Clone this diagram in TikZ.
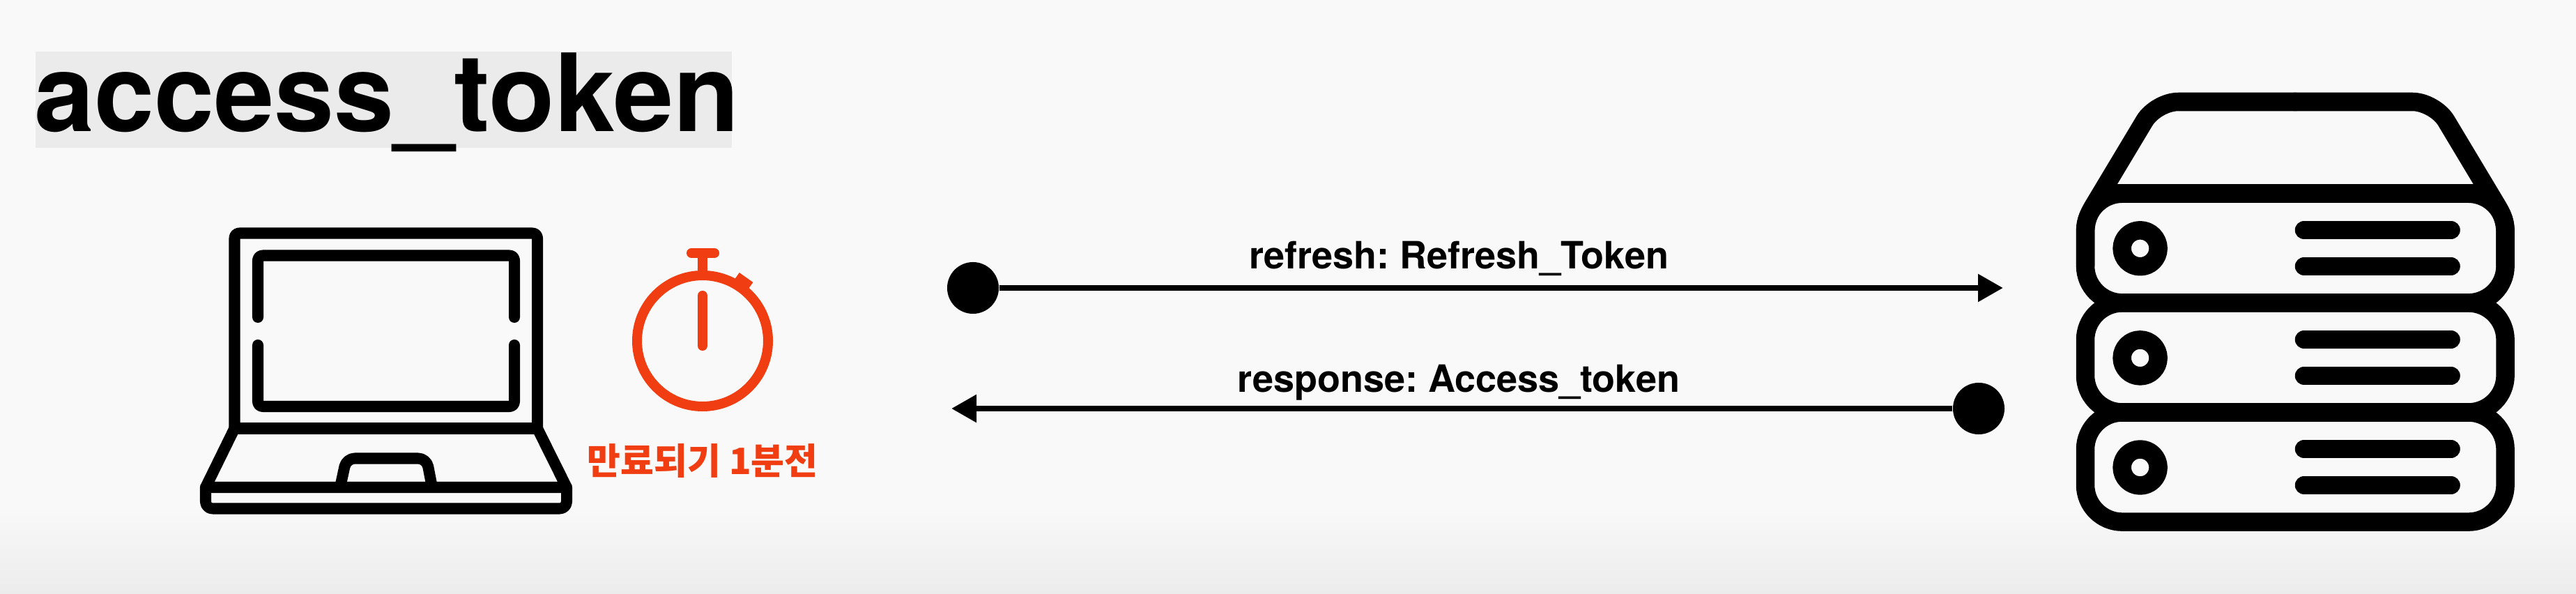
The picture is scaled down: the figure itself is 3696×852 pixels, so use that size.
\documentclass[tikz,border=0pt]{standalone}
\usepackage{fontspec}
\setmainfont{TeX Gyre Heros}
\newfontfamily\krfont{Noto Sans CJK KR}
\usetikzlibrary{arrows.meta}
\definecolor{pagebg}{HTML}{F9F9F9}
\definecolor{pagelow}{HTML}{ECECEC}
\definecolor{markbg}{HTML}{EBEBEB}
\definecolor{alarm}{HTML}{F03E12}
\tikzset{
  laptopline/.style={draw=black,line width=0.16cm,line cap=round,line join=round},
  serverline/.style={draw=black,line width=0.265cm,line cap=round,line join=round},
  watchline/.style={draw=alarm,line width=0.14cm,line cap=round},
  dot/.style={circle,fill=black,inner sep=0pt,minimum size=0.74cm},
  flow/.style={draw=black,line width=0.085cm,-{Triangle[length=0.36cm,width=0.38cm]}},
  flowlabel/.style={inner sep=0pt,anchor=base,font=\bfseries\frenchspacing\fontsize{15.35}{18}\selectfont}
}
\begin{document}
\begin{tikzpicture}[x=0.01cm,y=-0.01cm]
\useasboundingbox (0,0) rectangle (3696,852);
\fill[pagebg] (0,0) rectangle (3696,852);
\shade[top color=pagebg,bottom color=pagelow] (0,725) rectangle (3696,852);
% title
\fill[markbg] (51,74) rectangle (1050,212);
\node[inner sep=0pt,anchor=base] (title) at (555,189) {\bfseries\fontsize{44}{50}\selectfont access\_token};
% laptop
\draw[laptopline,rounded corners=0.07cm] (336.5,614.5) -- (336.5,334.5) -- (771,334.5) -- (771,614.5);
\draw[laptopline] (336.5,614.5) -- (771,614.5);
\draw[laptopline,rounded corners=0.07cm] (370,455) -- (370,366.5) -- (738,366.5) -- (738,455);
\draw[laptopline,rounded corners=0.07cm] (370,495) -- (370,583) -- (738,583) -- (738,495);
\draw[laptopline] (336.5,614.5) -- (295,699) -- (813,699) -- (771,614.5);
\draw[laptopline,rounded corners=0.1cm] (295,699) -- (295,729.5) -- (813,729.5) -- (813,699);
\draw[laptopline,rounded corners=0.12cm] (488,699) -- (497,657.5) -- (612,657.5) -- (620,699);
% stopwatch
\draw[watchline] (1008,489) circle (94);
\draw[watchline] (992,363) -- (1025,363);
\draw[watchline,line cap=butt] (1008,363) -- (1008,395);
\draw[watchline] (1008,424) -- (1008,496);
\draw[watchline,line width=0.24cm,line cap=butt] (1060,413) -- (1070.6,398);
\node[inner sep=0pt,text=alarm] (expire) at (1008,661) {\krfont\bfseries\fontsize{14.8}{18}\selectfont 만료되기 1분전};
% server
\draw[serverline] (2992,381) -- (2992,335) .. controls (2992,318) and (2996,308) .. (3004.5,294)
  [rounded corners=0.32cm] -- (3093.3,146) -- (3293,146);
\draw[serverline] (3594.6,381) -- (3594.6,335) .. controls (3594.6,318) and (3590.6,308) .. (3582.1,294)
  [rounded corners=0.32cm] -- (3493.3,146) -- (3293,146);
\draw[serverline,line cap=butt] (3012,277.7) -- (3575,277.7);
\draw[serverline,rounded corners=0.53cm] (2992,277.7) rectangle (3594.6,434.4);
\draw[serverline,rounded corners=0.53cm] (2992,434.4) rectangle (3594.6,591.5);
\draw[serverline,rounded corners=0.53cm] (2992,591.5) rectangle (3594.6,748.6);
\draw[serverline] (3070.6,356.3) circle (26);
\draw[serverline] (3070.6,513.4) circle (26);
\draw[serverline] (3070.6,670.5) circle (26);
\draw[serverline] (3306,330) -- (3516.5,330);
\draw[serverline] (3306,382) -- (3516.5,382);
\draw[serverline] (3306,487) -- (3516.5,487);
\draw[serverline] (3306,539) -- (3516.5,539);
\draw[serverline] (3306,644) -- (3516.5,644);
\draw[serverline] (3306,696) -- (3516.5,696);
% messages
\node[dot] (dota) at (1396,413) {};
\node[dot] (dotb) at (2839,586) {};
\coordinate (enda) at (2874,413);
\coordinate (endb) at (1365,586);
\draw[flow] (dota) -- (enda);
\draw[flow] (dotb) -- (endb);
\node[flowlabel] (refresh) at (2093,386) {refresh: Refresh\_Token};
\node[flowlabel] (response) at (2093,563) {response: Access\_token};
\end{tikzpicture}
\end{document}
